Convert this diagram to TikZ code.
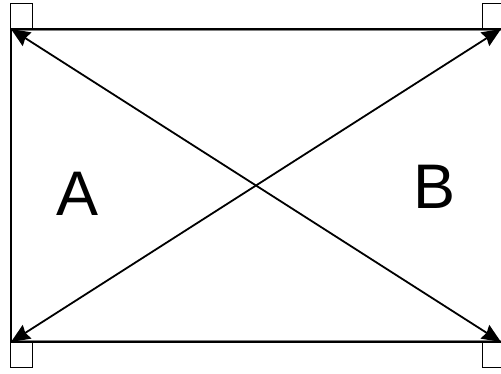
\documentclass[tikz,border=0pt]{standalone}
\usepackage{fontspec}
\setmainfont{Liberation Sans}
\usetikzlibrary{arrows.meta}
\begin{document}
\begin{tikzpicture}[x=1pt, y=1pt, line width=1.6pt,
  port/.style = {draw, line width=0.8pt, minimum width=22pt, minimum height=25pt, inner sep=0pt},
  side/.style = {font=\fontsize{63}{63}\selectfont, inner sep=0pt},
  diag/.style = {line width=1.8pt, {Stealth[length=19pt, width=16pt, inset=2pt]}-{Stealth[length=19pt, width=16pt, inset=2pt]}}]
  \useasboundingbox (0,0) rectangle (501,373);
  \coordinate (tl) at (11,344);
  \coordinate (tr) at (501,344);
  \coordinate (bl) at (11,31);
  \coordinate (br) at (501,31);
  \node[port, anchor=south west] (ptl) at (10,344) {};
  \node[port, anchor=south west] (ptr) at (482,344) {};
  \node[port, anchor=north west] (pbl) at (10,31) {};
  \node[port, anchor=north west] (pbr) at (482,31) {};
  % frame
  \draw (tr) -- (tl) -- (bl) -- (br);
  \draw[gray, line width=0.8pt] (12,342.5) -- (501,342.5);
  \draw[gray, line width=0.8pt] (12,32.5) -- (501,32.5);
  % diagonals
  \draw[diag] (tl) -- (br);
  \draw[diag] (bl) -- (tr);
  \node[side] (a) at (78,179.5) {A};
  \node[side] (b) at (434.5,186.5) {B};
\end{tikzpicture}
\end{document}
